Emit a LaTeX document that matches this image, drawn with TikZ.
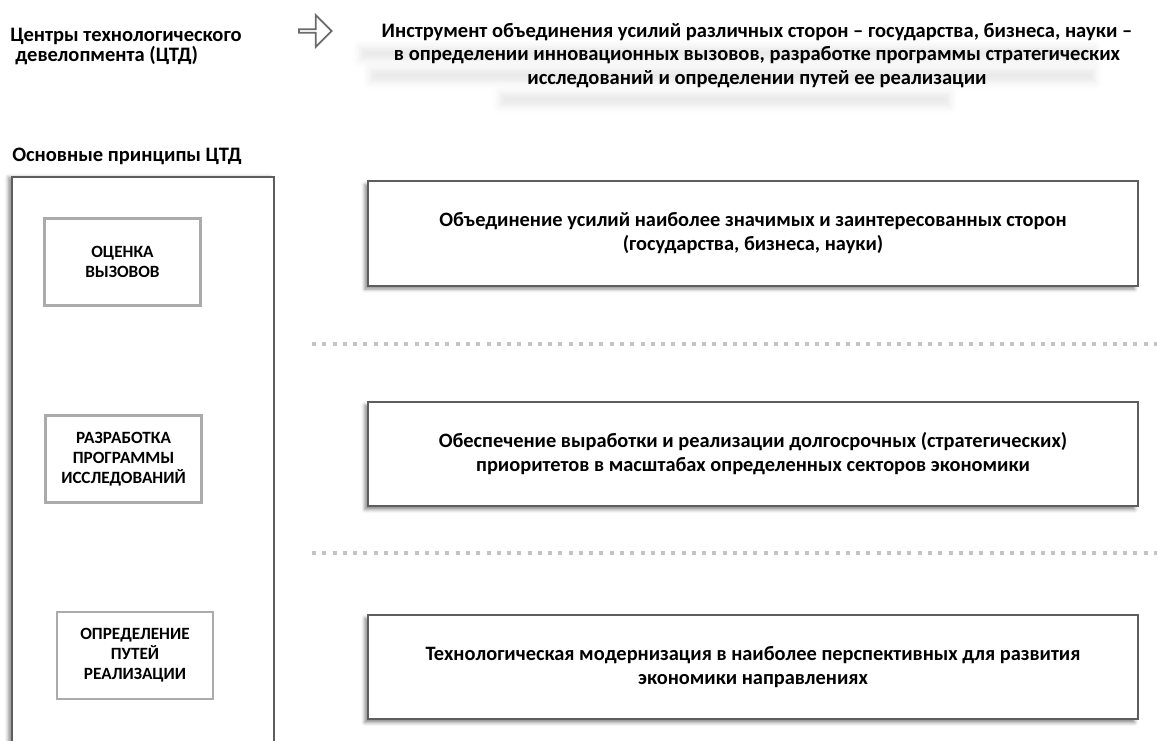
\documentclass[tikz,border=0pt]{standalone}
\usepackage{fontspec}
\setmainfont{Carlito}
\usetikzlibrary{positioning,shapes.arrows,shadows.blur}
\definecolor{frameE}{HTML}{5E5E5E}
\definecolor{innerE}{HTML}{ABABAB}
\definecolor{dotG}{HTML}{C4C4C4}
\definecolor{arrowE}{HTML}{6A6A6A}

\begin{document}
\begin{tikzpicture}[
    x=0.75pt,y=-0.75pt,
    font=\bfseries,
    caption/.style={font=\bfseries\fontsize{15.4}{15.5}\selectfont,
                    align=left,anchor=west,inner sep=0pt},
    lead/.style={font=\bfseries\fontsize{15.4}{17.6}\selectfont,
                 align=center,inner sep=0pt},
    principle/.style={draw=innerE,line width=1.8pt,minimum width=117pt,
                      minimum height=65.5pt,align=center,inner sep=0pt,
                      font=\bfseries\fontsize{12.9}{15}\selectfont},
    goal/.style={draw=frameE,line width=1.4pt,fill=white,
                 minimum width=577.5pt,minimum height=78.5pt,
                 align=center,inner sep=0pt,
                 font=\bfseries\fontsize{15.3}{18}\selectfont,
                 blur shadow={shadow xshift=-2.5pt,shadow yshift=-2.5pt,
                              shadow blur radius=2.5pt,shadow opacity=45}},
    sep/.style={dotG,line width=3pt,dash pattern=on 3pt off 4.7pt},
    glow/.style={blur shadow={shadow xshift=0pt,shadow yshift=0pt,
                              shadow blur radius=6pt,shadow opacity=9}},
]
\useasboundingbox (0,0) rectangle (1157,740);

% =====================================================================
%  Header: definition of the centres
% =====================================================================
\node[caption] (ctd) at (10,46.5)
     {Центры технологического\\\hspace{0.25em}девелопмента (ЦТД)};

\node[single arrow,draw=arrowE,line width=1.3pt,minimum height=24.5pt,
      minimum width=24pt,single arrow head extend=5.6pt,inner sep=0pt]
     (pointer) at (314.5,31) {};

% soft shadow behind the definition (one band per line)
\path[glow] (360,47) rectangle (1095,60);
\path[glow] (370,69) rectangle (1095,82);
\path[glow] (500,93) rectangle (950,106);

\node[lead] (tool) at (757,55.5)
     {Инструмент объединения усилий различных сторон – государства, бизнеса, науки –\\
      в определении инновационных вызовов, разработке программы стратегических\\
      исследований и определении путей ее реализации};

% =====================================================================
%  Left panel: the principles
% =====================================================================
\node[caption] (basics) at (12,156) {Основные принципы ЦТД};

\draw[frameE,line width=1.4pt,fill=white,
      blur shadow={shadow xshift=-3pt,shadow yshift=0pt,
                   shadow blur radius=2.5pt,shadow opacity=40}]
     (12,177) rectangle (274,760);

\node[principle] (p1) at (122.5,262) {ОЦЕНКА\\ВЫЗОВОВ};
\node[principle] (p2) at (123.5,459) {РАЗРАБОТКА\\ПРОГРАММЫ\\ИССЛЕДОВАНИЙ};
\node[principle] (p3) at (135,655.5) {ОПРЕДЕЛЕНИЕ\\ПУТЕЙ\\РЕАЛИЗАЦИИ};

% =====================================================================
%  Right column: what each principle delivers
% =====================================================================
\node[goal] (g1) at (753,233.5)
     {Объединение усилий наиболее значимых и заинтересованных сторон\\
      (государства, бизнеса, науки)};
\node[goal] (g2) at (753,454)
     {Обеспечение выработки и реализации долгосрочных (стратегических)\\
      приоритетов в масштабах определенных секторов экономики};
\node[goal] (g3) at (753,667)
     {Технологическая модернизация в наиболее перспективных для развития\\
      экономики направлениях};

% dotted separators between the rows
\foreach \y in {344,553}
   \draw[sep] (312,\y) -- (1160,\y);

\end{tikzpicture}
\end{document}
